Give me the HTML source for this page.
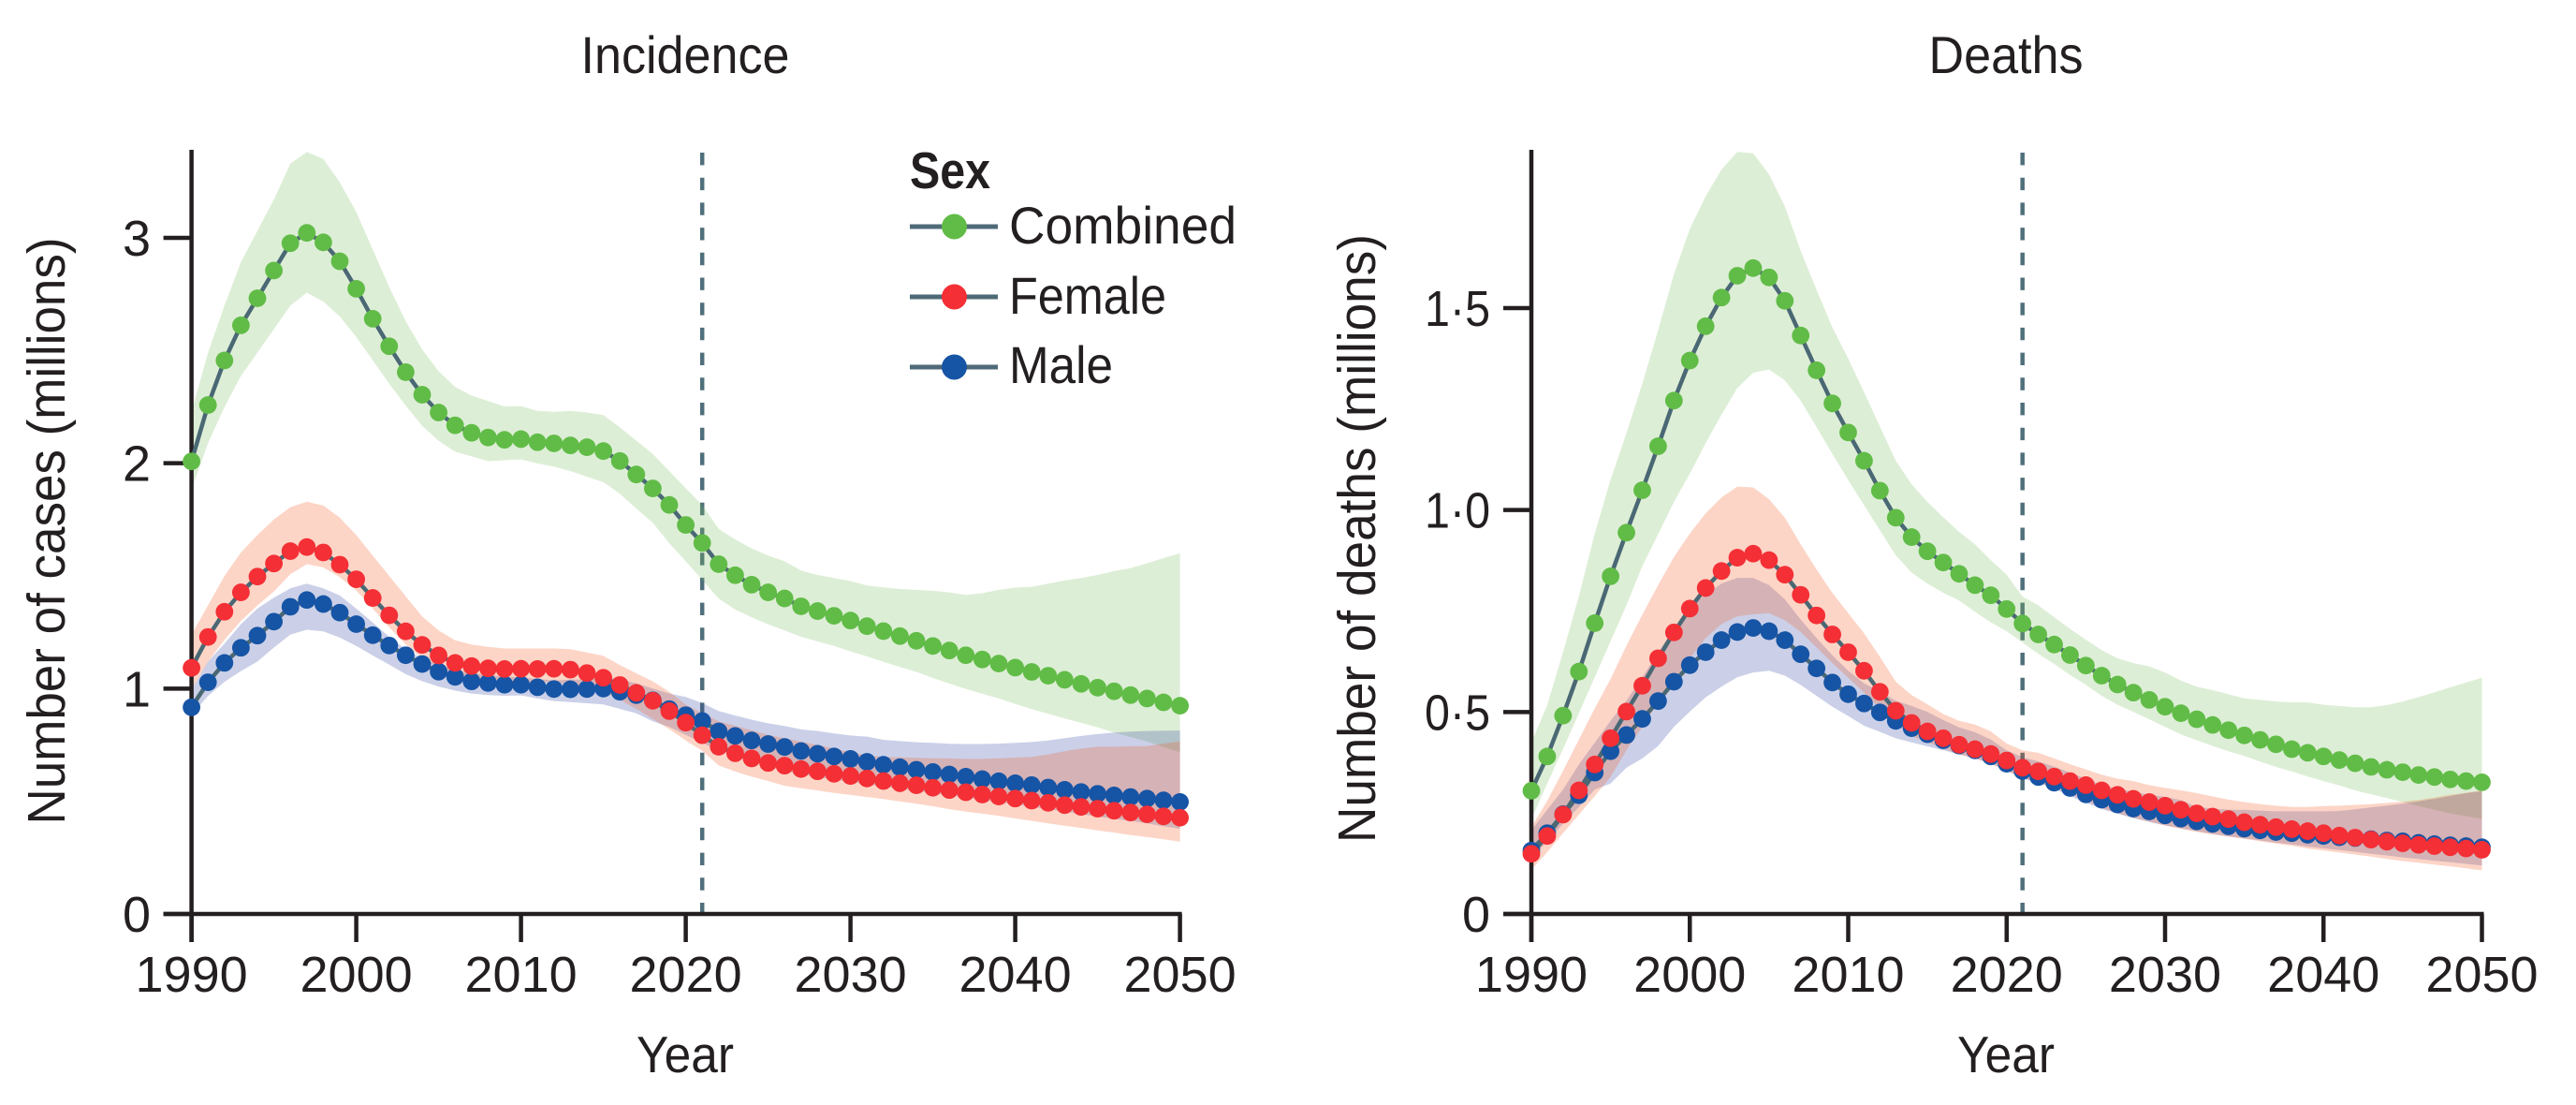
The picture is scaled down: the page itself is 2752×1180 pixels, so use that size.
<!DOCTYPE html>
<html lang="en">
<head>
<meta charset="utf-8">
<title>Incidence and deaths by sex, 1990–2050</title>
<style>
html,body{margin:0;padding:0;background:#fff;}
body{width:2752px;height:1180px;overflow:hidden;}
svg{display:block;}
text{font-family:"Liberation Sans",sans-serif;fill:#231f20;}
</style>
</head>
<body>
<svg id="figure" width="2752" height="1180" viewBox="0 0 2752 1180" xmlns="http://www.w3.org/2000/svg">
  <rect x="0" y="0" width="2752" height="1180" fill="#fff"/>
  <g id="panel-incidence"></g>
  <g id="panel-deaths"></g>

  <text x="732" y="78" font-size="56" text-anchor="middle" textLength="223" lengthAdjust="spacingAndGlyphs">Incidence</text>
  <text x="2143" y="78" font-size="56" text-anchor="middle" textLength="165" lengthAdjust="spacingAndGlyphs">Deaths</text>
  <text x="732" y="1145" font-size="55" text-anchor="middle" textLength="104" lengthAdjust="spacingAndGlyphs">Year</text>
  <text x="2143" y="1145" font-size="55" text-anchor="middle" textLength="104" lengthAdjust="spacingAndGlyphs">Year</text>
  <text transform="translate(69 567) rotate(-90)" font-size="57" text-anchor="middle" textLength="627" lengthAdjust="spacingAndGlyphs">Number of cases (millions)</text>
  <text transform="translate(1469 575) rotate(-90)" font-size="57" text-anchor="middle" textLength="650" lengthAdjust="spacingAndGlyphs">Number of deaths (millions)</text>

  <g>
    <text x="972" y="201" font-size="55" font-weight="bold" textLength="86" lengthAdjust="spacingAndGlyphs">Sex</text>
    <g>
      <line x1="972" x2="1066" y1="242" y2="242" stroke="#4f6a77" stroke-width="5"/>
      <circle cx="1019.5" cy="242" r="13.5" fill="#61bc47"/>
      <text x="1078" y="260" font-size="56" textLength="243" lengthAdjust="spacingAndGlyphs">Combined</text>
    </g>
    <g>
      <line x1="972" x2="1066" y1="317" y2="317" stroke="#4f6a77" stroke-width="5"/>
      <circle cx="1019.5" cy="317" r="13.5" fill="#f42f35"/>
      <text x="1078" y="335" font-size="56" textLength="168" lengthAdjust="spacingAndGlyphs">Female</text>
    </g>
    <g>
      <line x1="972" x2="1066" y1="392" y2="392" stroke="#4f6a77" stroke-width="5"/>
      <circle cx="1019.5" cy="392" r="13.5" fill="#1654a5"/>
      <text x="1078" y="409" font-size="56" textLength="111" lengthAdjust="spacingAndGlyphs">Male</text>
    </g>
  </g>
</svg>

<script>
const years = [
1990,1991,1992,1993,1994,1995,1996,1997,1998,1999,
2000,2001,2002,2003,2004,2005,2006,2007,2008,2009,
2010,2011,2012,2013,2014,2015,2016,2017,2018,2019,
2020,2021,2022,2023,2024,2025,2026,2027,2028,2029,
2030,2031,2032,2033,2034,2035,2036,2037,2038,2039,
2040,2041,2042,2043,2044,2045,2046,2047,2048,2049,
2050];
const xTickYears = [1990,2000,2010,2020,2030,2040,2050];
const forecastStartYear = 2021;

const incidenceTicks = [0,1,2,3];
const incidenceTickLabels = ["0","1","2","3"];
const deathsTicks = [0,0.5,1,1.5];
const deathsTickLabels = ["0","0·5","1·0","1·5"];

const incidenceCombined = [
2.008,2.258,2.456,2.612,2.732,2.855,2.976,3.022,2.98,2.896,
2.774,2.641,2.519,2.404,2.304,2.225,2.168,2.135,2.114,2.104,
2.107,2.093,2.088,2.079,2.071,2.054,2.01,1.95,1.888,1.815,
1.726,1.646,1.552,1.503,1.461,1.427,1.4,1.365,1.344,1.323,
1.302,1.277,1.255,1.233,1.212,1.189,1.169,1.148,1.129,1.111,
1.093,1.074,1.057,1.039,1.021,1.004,.988,.971,.956,.939,
.924];
const incidenceCombinedUpper = [
2.228,2.49,2.699,2.893,3.031,3.17,3.329,3.381,3.35,3.246,
3.115,2.948,2.782,2.63,2.505,2.408,2.339,2.3,2.276,2.252,
2.253,2.232,2.228,2.232,2.225,2.214,2.159,2.1,2.041,1.965,
1.889,1.815,1.708,1.662,1.622,1.59,1.565,1.524,1.504,1.491,
1.477,1.457,1.449,1.442,1.438,1.434,1.427,1.416,1.423,1.438,
1.448,1.452,1.466,1.48,1.491,1.504,1.521,1.535,1.556,1.579,
1.6];
const incidenceCombinedLower = [
1.882,2.089,2.249,2.387,2.491,2.595,2.699,2.757,2.717,2.651,
2.56,2.457,2.353,2.256,2.166,2.099,2.051,2.03,2.009,2.013,
2.017,1.999,1.985,1.965,1.94,1.916,1.865,1.798,1.736,1.645,
1.565,1.482,1.399,1.351,1.316,1.285,1.258,1.23,1.209,1.189,
1.165,1.143,1.119,1.096,1.074,1.047,1.022,.999,.977,.956,
.932,.909,.888,.867,.848,.828,.805,.785,.765,.741,
.717];

const incidenceFemale = [
1.092,1.229,1.341,1.427,1.497,1.555,1.61,1.628,1.604,1.55,
1.485,1.402,1.325,1.254,1.194,1.147,1.114,1.1,1.09,1.087,
1.088,1.087,1.088,1.084,1.069,1.048,1.016,.981,.946,.9,
.849,.793,.742,.713,.69,.67,.658,.643,.633,.622,
.612,.601,.59,.58,.571,.56,.55,.54,.53,.521,
.512,.503,.493,.483,.475,.467,.458,.45,.442,.433,
.427];
const incidenceFemaleUpper = [
1.24,1.369,1.5,1.604,1.681,1.75,1.805,1.829,1.812,1.759,
1.681,1.59,1.5,1.41,1.32,1.258,1.214,1.196,1.185,1.178,
1.178,1.178,1.178,1.175,1.16,1.145,1.105,1.068,1.032,.986,
.929,.89,.855,.835,.815,.795,.78,.765,.75,.735,
.717,.704,.697,.695,.693,.691,.69,.688,.688,.691,
.694,.697,.708,.722,.734,.742,.742,.744,.745,.756,
.766];
const incidenceFemaleLower = [
.995,1.119,1.216,1.3,1.369,1.431,1.507,1.552,1.538,1.494,
1.435,1.355,1.272,1.196,1.133,1.092,1.064,1.047,1.036,1.029,
1.029,1.029,1.029,1.02,1.005,.985,.95,.91,.865,.82,
.77,.724,.659,.632,.609,.59,.569,.558,.548,.537,
.528,.519,.51,.499,.489,.478,.465,.454,.445,.435,
.424,.413,.402,.392,.382,.371,.361,.35,.341,.331,
.321];

const incidenceMale = [
.917,1.028,1.114,1.181,1.235,1.297,1.363,1.393,1.375,1.337,
1.286,1.237,1.191,1.148,1.109,1.075,1.052,1.032,1.025,1.017,
1.017,1.006,.998,.997,.998,1.0,.986,.971,.948,.909,
.882,.856,.81,.79,.77,.754,.741,.723,.711,.699,
.688,.675,.662,.651,.64,.63,.619,.609,.598,.589,
.58,.572,.561,.551,.541,.533,.526,.519,.512,.504,
.497];
const incidenceMaleUpper = [
.995,1.12,1.2,1.286,1.355,1.403,1.445,1.466,1.445,1.413,
1.355,1.293,1.23,1.175,1.133,1.106,1.085,1.071,1.06,1.054,
1.05,1.043,1.036,1.04,1.04,1.055,1.04,1.024,1.0,.978,
.963,.936,.9,.881,.862,.846,.834,.819,.812,.801,
.792,.787,.773,.767,.762,.759,.755,.754,.754,.756,
.759,.763,.77,.78,.79,.798,.805,.809,.812,.813,
.814];
const incidenceMaleLower = [
.884,.967,1.03,1.078,1.12,1.182,1.24,1.261,1.254,1.226,
1.189,1.147,1.106,1.064,1.033,1.009,.991,.978,.971,.968,
.97,.956,.945,.94,.935,.93,.91,.89,.855,.83,
.795,.76,.724,.697,.676,.655,.634,.621,.607,.596,
.586,.576,.565,.555,.546,.536,.526,.517,.505,.496,
.486,.476,.465,.454,.443,.432,.422,.413,.402,.389,
.378];

const deathsCombined = [
.305,.39,.491,.6,.72,.836,.944,1.049,1.158,1.271,
1.37,1.455,1.526,1.58,1.599,1.576,1.518,1.432,1.346,1.264,
1.192,1.122,1.048,.981,.933,.898,.87,.842,.814,.789,
.755,.719,.692,.667,.641,.615,.59,.568,.548,.53,
.513,.497,.482,.468,.455,.442,.431,.42,.408,.399,
.39,.381,.373,.364,.357,.351,.344,.339,.333,.329,
.326];
const deathsCombinedUpper = [
.424,.517,.648,.787,.942,1.075,1.19,1.313,1.445,1.584,
1.696,1.777,1.843,1.887,1.883,1.831,1.752,1.642,1.545,1.452,
1.375,1.292,1.207,1.122,1.064,1.02,.982,.946,.915,.876,
.84,.786,.764,.735,.706,.679,.653,.633,.621,.613,
.598,.578,.563,.554,.544,.534,.53,.526,.524,.524,
.518,.515,.512,.512,.517,.526,.537,.549,.561,.573,
.585];
const deathsCombinedLower = [
.235,.323,.408,.497,.586,.675,.764,.861,.94,1.02,
1.09,1.166,1.236,1.302,1.34,1.348,1.321,1.271,1.205,1.139,
1.074,1.012,.95,.888,.845,.818,.795,.776,.748,.722,
.7,.672,.644,.619,.592,.567,.54,.518,.5,.482,
.463,.445,.43,.416,.403,.391,.377,.364,.353,.34,
.329,.318,.306,.296,.287,.277,.267,.258,.249,.242,
.236];

const deathsFemale = [
.149,.193,.246,.306,.37,.435,.501,.565,.633,.697,
.756,.807,.849,.882,.892,.876,.84,.79,.739,.692,
.648,.602,.55,.503,.473,.452,.435,.419,.408,.396,
.38,.362,.353,.34,.329,.319,.306,.295,.285,.277,
.268,.258,.249,.241,.235,.227,.221,.215,.21,.205,
.2,.194,.189,.184,.179,.175,.171,.168,.165,.162,
.159];
const deathsFemaleUpper = [
.215,.28,.354,.432,.509,.582,.664,.741,.814,.884,
.942,.992,1.031,1.058,1.056,1.027,.981,.915,.853,.795,
.745,.695,.637,.575,.542,.519,.495,.478,.469,.452,
.422,.405,.399,.385,.371,.358,.345,.335,.329,.319,
.312,.306,.299,.291,.283,.277,.272,.268,.265,.265,
.267,.268,.27,.272,.275,.278,.282,.288,.295,.3,
.306];
const deathsFemaleLower = [
.11,.153,.2,.246,.292,.339,.405,.463,.524,.578,
.633,.683,.718,.737,.742,.745,.727,.698,.66,.621,
.585,.548,.509,.47,.44,.425,.41,.395,.385,.372,
.355,.337,.325,.312,.296,.281,.262,.25,.238,.229,
.219,.211,.203,.197,.192,.186,.18,.174,.169,.162,
.157,.152,.147,.142,.136,.131,.127,.122,.118,.113,
.108];

const deathsMale = [
.157,.2,.247,.294,.35,.403,.443,.483,.527,.575,
.616,.648,.678,.698,.708,.7,.678,.643,.608,.573,
.544,.521,.499,.478,.46,.445,.43,.417,.405,.39,
.372,.354,.339,.325,.312,.296,.283,.271,.261,.254,
.244,.236,.229,.223,.217,.211,.207,.203,.2,.196,
.193,.19,.188,.185,.182,.18,.176,.173,.17,.168,
.165];
const deathsMaleUpper = [
.207,.258,.308,.37,.424,.478,.528,.586,.648,.706,
.76,.791,.818,.832,.832,.814,.779,.729,.683,.64,
.602,.571,.551,.528,.515,.5,.48,.462,.45,.432,
.405,.388,.378,.365,.35,.335,.32,.31,.303,.295,
.29,.282,.265,.261,.258,.258,.256,.254,.254,.254,
.254,.255,.259,.264,.268,.273,.279,.285,.292,.299,
.304];
const deathsMaleLower = [
.137,.18,.223,.265,.308,.323,.362,.385,.416,.463,
.501,.536,.563,.586,.598,.602,.59,.567,.54,.513,
.49,.466,.451,.435,.425,.415,.405,.395,.385,.372,
.355,.335,.325,.31,.292,.275,.26,.248,.237,.228,
.219,.212,.205,.198,.192,.187,.182,.177,.172,.167,
.163,.158,.154,.149,.145,.14,.136,.132,.128,.124,
.12];

const SVG_NS = 'http://www.w3.org/2000/svg';
const INK = '#231f20';
const LINE_COLOR = '#4a6874';

function svgEl(parent, tag, attrs) {
  const el = document.createElementNS(SVG_NS, tag);
  for (const key in attrs) el.setAttribute(key, attrs[key]);
  parent.appendChild(el);
  return el;
}

function drawPanel(cfg) {
  const root = document.getElementById(cfg.rootId);
  const xScale = function (year) {
    return cfg.x0 + (year - years[0]) / (years[years.length - 1] - years[0]) * (cfg.x1 - cfg.x0);
  };
  const yScale = function (value) {
    return cfg.y0 - value / cfg.yRefValue * (cfg.y0 - cfg.yRefPixel);
  };

  const forecast = svgEl(root, 'line', {
    x1: xScale(forecastStartYear), x2: xScale(forecastStartYear), y1: 163, y2: cfg.y0 - 2,
    stroke: '#4f6f7b', 'stroke-width': 4.5, 'stroke-dasharray': '13.4 13.3'
  });
  
  

  cfg.series.forEach(function (s) {
    const upperPts = years.map(function (yr, i) { return xScale(yr).toFixed(1) + ',' + yScale(s.upper[i]).toFixed(1); });
    const lowerPts = years.map(function (yr, i) { return xScale(yr).toFixed(1) + ',' + yScale(s.lower[i]).toFixed(1); }).reverse();
    const band = svgEl(root, 'polygon', { points: upperPts.concat(lowerPts).join(' '), fill: s.band, 'fill-opacity': 0.25 });
    
    
  });

  const yAxis = svgEl(root, 'line', {
    x1: cfg.x0, x2: cfg.x0, y1: 160, y2: cfg.y0 + 30, stroke: INK, 'stroke-width': 4.5
  });
  
  

  const xAxis = svgEl(root, 'line', {
    x1: cfg.x0 - 30, x2: cfg.x1 + 2, y1: cfg.y0, y2: cfg.y0, stroke: INK, 'stroke-width': 4.5
  });
  
  

  cfg.yTicks.forEach(function (tick, i) {
    const mark = svgEl(root, 'line', {
      x1: cfg.x0 - 30, x2: cfg.x0, y1: yScale(tick), y2: yScale(tick), stroke: INK, 'stroke-width': 4.5
    });
    
    
    const label = svgEl(root, 'text', {
      x: cfg.yLabelRight, y: yScale(tick) + 19, 'font-size': 54, 'text-anchor': 'end'
    });
    if (cfg.yTickLabels[i].length > 1) {
      label.setAttribute('textLength', 70);
      label.setAttribute('lengthAdjust', 'spacingAndGlyphs');
    }
    label.textContent = cfg.yTickLabels[i];
    
    
  });

  xTickYears.forEach(function (yr) {
    const mark = svgEl(root, 'line', {
      x1: xScale(yr), x2: xScale(yr), y1: cfg.y0, y2: cfg.y0 + 30, stroke: INK, 'stroke-width': 4.5
    });
    
    
    const label = svgEl(root, 'text', {
      x: xScale(yr), y: 1059, 'font-size': 54, 'text-anchor': 'middle'
    });
    label.textContent = String(yr);
    
    
  });

  cfg.drawOrder.forEach(function (s) {
    const pts = years.map(function (yr, i) { return xScale(yr).toFixed(1) + ',' + yScale(s.values[i]).toFixed(1); });
    const line = svgEl(root, 'polyline', {
      points: pts.join(' '), fill: 'none', stroke: LINE_COLOR, 'stroke-width': 4.5, 'stroke-linejoin': 'round'
    });
    
    
  });

  cfg.drawOrder.forEach(function (s) {
    const group = svgEl(root, 'g', { fill: s.dot });
    
    
    years.forEach(function (yr, i) {
      const dot = svgEl(group, 'circle', { cx: xScale(yr), cy: yScale(s.values[i]), r: 9.4 });
      
      
    });
  });
}

const incidenceBandsOrdered = [
  { name: 'combined', values: incidenceCombined, upper: incidenceCombinedUpper, lower: incidenceCombinedLower, band: '#78bc5c', dot: '#61bc47' },
  { name: 'male', values: incidenceMale, upper: incidenceMaleUpper, lower: incidenceMaleLower, band: '#3044a4', dot: '#1654a5' },
  { name: 'female', values: incidenceFemale, upper: incidenceFemaleUpper, lower: incidenceFemaleLower, band: '#f45820', dot: '#f42f35' }
];
const deathsBandsOrdered = [
  { name: 'combined', values: deathsCombined, upper: deathsCombinedUpper, lower: deathsCombinedLower, band: '#78bc5c', dot: '#61bc47' },
  { name: 'male', values: deathsMale, upper: deathsMaleUpper, lower: deathsMaleLower, band: '#3044a4', dot: '#1654a5' },
  { name: 'female', values: deathsFemale, upper: deathsFemaleUpper, lower: deathsFemaleLower, band: '#f45820', dot: '#f42f35' }
];

drawPanel({
  rootId: 'panel-incidence', key: 'incidence',
  x0: 204.6, x1: 1260.6, y0: 976, yRefValue: 3, yRefPixel: 254,
  yLabelRight: 161, yTicks: incidenceTicks, yTickLabels: incidenceTickLabels,
  series: incidenceBandsOrdered, drawOrder: incidenceBandsOrdered
});
drawPanel({
  rootId: 'panel-deaths', key: 'deaths',
  x0: 1636, x1: 2651.5, y0: 976, yRefValue: 1.5, yRefPixel: 329,
  yLabelRight: 1592, yTicks: deathsTicks, yTickLabels: deathsTickLabels,
  series: deathsBandsOrdered, drawOrder: deathsBandsOrdered
});
</script>
</body>
</html>
